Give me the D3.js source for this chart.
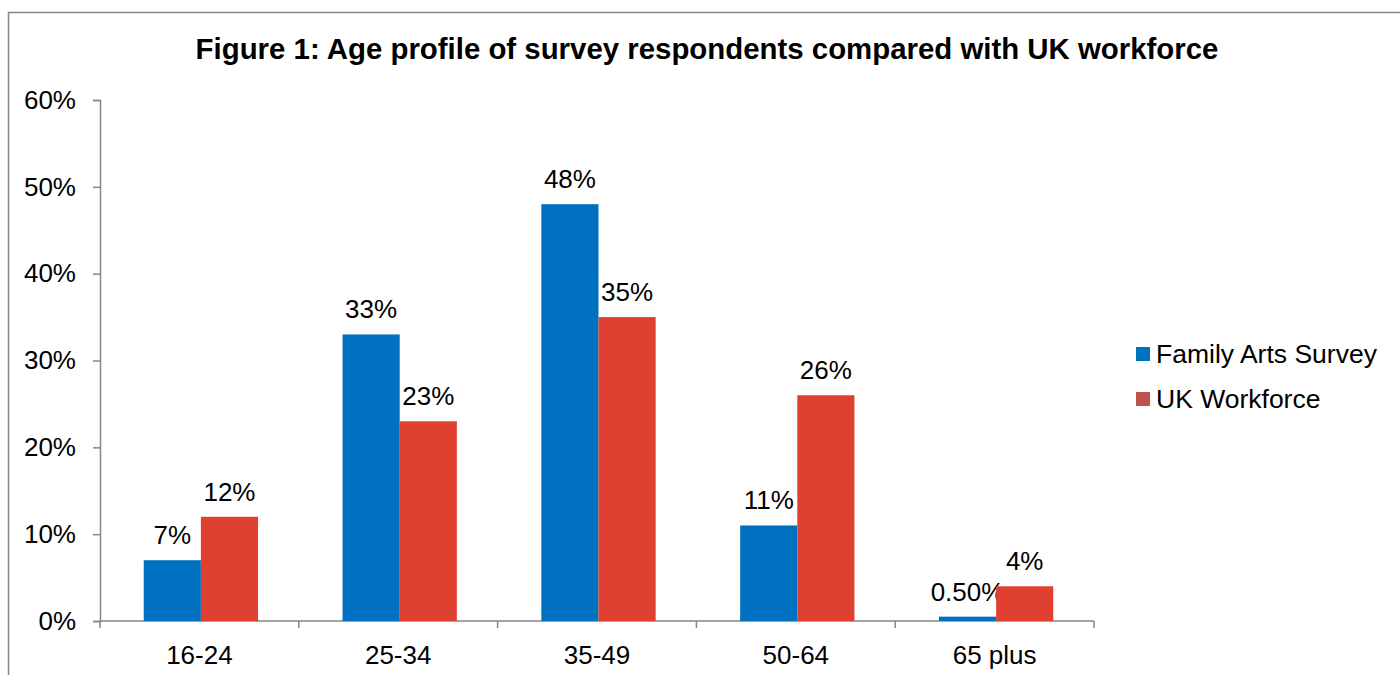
<!DOCTYPE html>
<html>
<head>
<meta charset="utf-8">
<script src="https://cdn.jsdelivr.net/npm/d3@7"></script>
<style>
  html, body { margin: 0; padding: 0; background: #fff; }
  svg { display: block; font-family: "Liberation Sans", Arial, sans-serif; }
</style>
</head>
<body>
<svg id="chart" width="1400" height="675"></svg>
<script>
// Age bands and the share of each group falling into them (percent)
const categories = ["16-24", "25-34", "35-49", "50-64", "65 plus"];
const familyArts = [7, 33, 48, 11, 0.5];
const ukWorkforce = [12, 23, 35, 26, 4];
const familyArtsLabels = ["7%", "33%", "48%", "11%", "0.50%"];
const ukWorkforceLabels = ["12%", "23%", "35%", "26%", "4%"];
const yTicks = [0, 10, 20, 30, 40, 50, 60];
const seriesNames = ["Family Arts Survey", "UK Workforce"];

const svg = d3.select("#chart");
const axisColor = "#868686";
const blue = "#0070C0";
const red = "#E04030";
const legendRed = "#C0504D";
const fontSize = 26;

// Outer frame (open on the right and bottom)
svg.append("path")
  .attr("d", "M8.5,675 L8.5,12.5 L1400,12.5")
  .attr("fill", "none").attr("stroke", axisColor).attr("stroke-width", 1.5);

svg.append("text")
  .attr("x", 707).attr("y", 59)
  .attr("text-anchor", "middle")
  .attr("font-size", 29.4).attr("font-weight", "bold")
  .text("Figure 1: Age profile of survey respondents compared with UK workforce");

const plot = { left: 100, right: 1094, top: 100, bottom: 621 };

const x = d3.scaleBand().domain(categories).range([plot.left, plot.right]).paddingInner(0).paddingOuter(0);
const y = d3.scaleLinear().domain([0, 60]).range([plot.bottom, plot.top]);

const groupWidth = x.bandwidth() * 0.575;
const xs = d3.scaleBand().domain(seriesNames).range([0, groupWidth]);
const groupOffset = (x.bandwidth() - groupWidth) / 2 + 1.5;

// Y axis
const yAxis = svg.append("g").attr("transform", `translate(${plot.left},0)`)
  .call(d3.axisLeft(y).tickValues(yTicks).tickFormat(d => d + "%").tickSize(7).tickPadding(17));
yAxis.select(".domain").attr("stroke", axisColor).attr("stroke-width", 1.5);
yAxis.selectAll(".tick line").attr("stroke", axisColor).attr("stroke-width", 1.5);
yAxis.selectAll(".tick text").attr("font-size", fontSize).attr("fill", "#000")
  .attr("font-family", "Liberation Sans, Arial, sans-serif");

// X axis with ticks between categories
const xAxisG = svg.append("g").attr("transform", `translate(0,${plot.bottom})`);
xAxisG.append("line").attr("x1", plot.left).attr("x2", plot.right)
  .attr("stroke", axisColor).attr("stroke-width", 1.5);
const boundaries = categories.map(c => x(c)).concat([plot.right]);
xAxisG.selectAll("line.tick").data(boundaries).enter().append("line")
  .attr("class", "tick")
  .attr("x1", d => d).attr("x2", d => d).attr("y1", 0).attr("y2", 7)
  .attr("stroke", axisColor).attr("stroke-width", 1.5);
xAxisG.selectAll("text").data(categories).enter().append("text")
  .attr("x", d => x(d) + x.bandwidth() / 2).attr("y", 43)
  .attr("text-anchor", "middle").attr("font-size", fontSize).text(d => d);

// Bars
const series = [
  { name: seriesNames[0], values: familyArts, labels: familyArtsLabels, color: blue },
  { name: seriesNames[1], values: ukWorkforce, labels: ukWorkforceLabels, color: red }
];

series.forEach(s => {
  const g = svg.append("g");
  const bx = (c) => x(c) + groupOffset + xs(s.name);
  g.selectAll("rect").data(categories).enter().append("rect")
    .attr("x", (c) => bx(c))
    .attr("width", xs.bandwidth())
    .attr("y", (c, i) => y(s.values[i]))
    .attr("height", (c, i) => y(0) - y(s.values[i]))
    .attr("fill", s.color);
  g.selectAll("text").data(categories).enter().append("text")
    .attr("x", (c) => bx(c) + xs.bandwidth() / 2)
    .attr("y", (c, i) => y(s.values[i]) - 16)
    .attr("text-anchor", "middle").attr("font-size", fontSize)
    .text((c, i) => s.labels[i]);
});

// Legend
const legend = svg.append("g").attr("transform", "translate(1136,347)");
const legendColors = [blue, legendRed];
seriesNames.forEach((n, i) => {
  const row = legend.append("g").attr("transform", `translate(0,${i * 45})`);
  row.append("rect").attr("width", 14).attr("height", 14).attr("fill", legendColors[i]);
  row.append("text").attr("x", 20).attr("y", 16).attr("font-size", 26.5).text(n);
});
</script>
</body>
</html>
